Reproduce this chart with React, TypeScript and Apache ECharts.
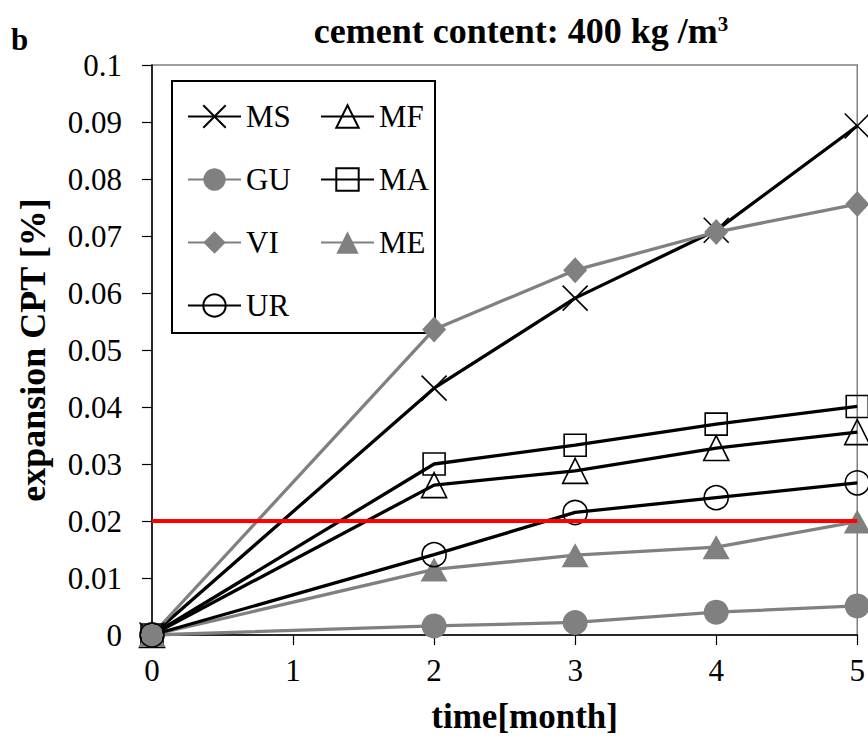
import { useEffect, useRef } from 'react';
import * as echarts from 'echarts';

const MONTHS = [0, 2, 3, 4, 5];
const MS = [0, 0.0433, 0.0591, 0.071, 0.0893];
const MF = [0, 0.0263, 0.0288, 0.0328, 0.0356];
const GU = [0, 0.0016, 0.0022, 0.004, 0.0051];
const MA = [0, 0.03, 0.0333, 0.037, 0.0401];
const VI = [0, 0.0536, 0.064, 0.0707, 0.0756];
const ME = [0, 0.0115, 0.014, 0.0154, 0.0199];
const UR = [0, 0.0141, 0.0215, 0.0241, 0.0267];
const LIMIT_X = [0, 5];
const LIMIT_Y = 0.02;

const LEGEND_COL1 = ['MS', 'GU', 'VI', 'UR'];
const LEGEND_COL2 = ['MF', 'MA', 'ME'];

const BLACK = '#000000';
const GRAY = '#808080';
const FONT = "'Liberation Serif', 'Times New Roman', 'DejaVu Serif', serif";
const X_PATH = 'path://M0,0L20,20M20,0L0,20';

type Spec = { name: string; values: number[]; color: string; symbol: string; size: number | number[]; filled: boolean };

const SPECS: Spec[] = [
  { name: 'MS', values: MS, color: BLACK, symbol: X_PATH, size: 25, filled: false },
  { name: 'MF', values: MF, color: BLACK, symbol: 'triangle', size: 25, filled: false },
  { name: 'GU', values: GU, color: GRAY, symbol: 'circle', size: 25, filled: true },
  { name: 'MA', values: MA, color: BLACK, symbol: 'rect', size: 22, filled: false },
  { name: 'VI', values: VI, color: GRAY, symbol: 'diamond', size: [24, 26], filled: true },
  { name: 'ME', values: ME, color: GRAY, symbol: 'triangle', size: [27, 24], filled: true },
  { name: 'UR', values: UR, color: BLACK, symbol: 'circle', size: 24, filled: false },
];

export default function App() {
  const ref = useRef<HTMLDivElement>(null);
  useEffect(() => {
    const chart = echarts.init(ref.current!, null, { renderer: 'svg' });
    const series: any[] = SPECS.map((s) => ({
      name: s.name,
      type: 'line',
      data: MONTHS.map((m, i) => [m, s.values[i]]),
      symbol: s.symbol,
      symbolSize: s.size,
      showSymbol: true,
      clip: false,
      lineStyle: { color: s.color, width: 3.3 },
      itemStyle: s.filled
        ? { color: s.color, borderWidth: 0 }
        : { color: 'rgba(0,0,0,0)', borderColor: s.color, borderWidth: 1.6 },
      emphasis: { disabled: true },
      z: 3,
    }));
    series.push({
      name: 'limit',
      type: 'line',
      data: LIMIT_X.map((x) => [x, LIMIT_Y]),
      symbol: 'none',
      lineStyle: { color: '#ff0000', width: 4 },
      z: 5,
      clip: false,
    });
    const legendCommon = {
      orient: 'vertical',
      itemWidth: 53,
      itemHeight: 28,
      itemGap: 32,
      top: 96,
      textStyle: { fontFamily: FONT, fontSize: 31, color: '#000' },
      selectedMode: false,
    };
    const option: any = {
      animation: false,
      backgroundColor: '#ffffff',
      grid: {
        left: 152,
        right: 10,
        top: 65,
        bottom: 101,
        show: true,
        borderColor: GRAY,
        borderWidth: 1.5,
        backgroundColor: 'transparent',
      },
      legend: [
        { ...legendCommon, left: 182, data: LEGEND_COL1 },
        { ...legendCommon, left: 315, data: LEGEND_COL2 },
      ],
      xAxis: {
        type: 'value',
        min: 0,
        max: 5,
        interval: 1,
        name: 'time[month]',
        nameLocation: 'middle',
        nameGap: 64,
        nameTextStyle: { fontFamily: FONT, fontSize: 35, fontWeight: 'bold', color: '#000', padding: [0, 0, 0, 40] },
        axisLine: { lineStyle: { color: '#000', width: 1.5 } },
        axisTick: { show: true, length: 10, lineStyle: { color: '#000', width: 1.2 } },
        axisLabel: { fontFamily: FONT, fontSize: 31, color: '#000', margin: 20 },
        splitLine: { show: false },
      },
      yAxis: {
        type: 'value',
        min: 0,
        max: 0.1,
        interval: 0.01,
        name: 'expansion CPT [%]',
        nameLocation: 'middle',
        nameGap: 101,
        nameTextStyle: { fontFamily: FONT, fontSize: 36, fontWeight: 'bold', color: '#000' },
        axisLine: { show: true, lineStyle: { color: '#000', width: 1.5 } },
        axisTick: { show: true, length: 10, lineStyle: { color: '#000', width: 1.2 } },
        axisLabel: { fontFamily: FONT, fontSize: 31, color: '#000', margin: 30 },
        splitLine: { show: false },
      },
      graphic: [
        {
          type: 'rect',
          shape: { x: 172, y: 81, width: 263, height: 252 },
          style: { fill: 'none', stroke: '#000', lineWidth: 2 },
          z: 1,
        },
        {
          type: 'text',
          x: 521,
          y: 31,
          style: {
            text: '{a|cement content: 400 kg /m}{s|3}',
            align: 'center',
            verticalAlign: 'middle',
            rich: {
              a: { fontFamily: FONT, fontSize: 36, fontWeight: 'bold', fill: '#000' },
              s: { fontFamily: FONT, fontSize: 21, fontWeight: 'bold', fill: '#000', verticalAlign: 'top' },
            },
          },
        },
        {
          type: 'text',
          x: 11,
          y: 39,
          style: { text: 'b', fontFamily: FONT, fontSize: 31, fontWeight: 'bold', fill: '#000', align: 'left', verticalAlign: 'middle' },
        },
      ],
      series,
    };
    chart.setOption(option);
    return () => chart.dispose();
  }, []);
  return <div ref={ref} style={{ position: 'fixed', left: 0, top: 0, width: 868, height: 739, background: '#fff' }} />;
}
